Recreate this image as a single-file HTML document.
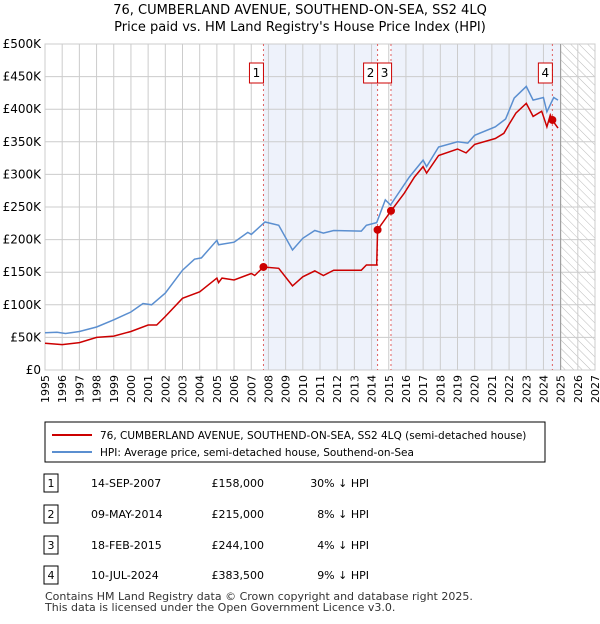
<!DOCTYPE html>
<html><head><meta charset="utf-8"><style>
body{margin:0;background:#fff;font-family:"DejaVu Sans","Liberation Sans",sans-serif;}
svg text{font-family:"DejaVu Sans","Liberation Sans",sans-serif;}
</style></head><body>
<svg width="600" height="620" xmlns="http://www.w3.org/2000/svg">
<text x="300" y="14" text-anchor="middle" font-size="13">76, CUMBERLAND AVENUE, SOUTHEND-ON-SEA, SS2 4LQ</text>
<text x="300" y="31" text-anchor="middle" font-size="13">Price paid vs. HM Land Registry's House Price Index (HPI)</text>
<defs><pattern id="hatch" width="6" height="6" patternUnits="userSpaceOnUse" patternTransform="rotate(-45)"><line x1="0" y1="0" x2="0" y2="6" stroke="#bbb" stroke-width="1"/></pattern></defs>
<g id="plot"></g>
<rect x="45" y="422" width="500" height="40" fill="#fff" stroke="#000"/>
<line x1="52" y1="435" x2="92" y2="435" stroke="#cc0000" stroke-width="2"/>
<text x="100" y="439" font-size="10.5">76, CUMBERLAND AVENUE, SOUTHEND-ON-SEA, SS2 4LQ (semi-detached house)</text>
<line x1="52" y1="452" x2="92" y2="452" stroke="#5b8fd0" stroke-width="2"/>
<text x="100" y="456" font-size="10.5">HPI: Average price, semi-detached house, Southend-on-Sea</text>
<g id="table" font-size="11"></g>
<text x="45" y="600" font-size="11" fill="#333">Contains HM Land Registry data © Crown copyright and database right 2025.</text>
<text x="45" y="611" font-size="11" fill="#333">This data is licensed under the Open Government Licence v3.0.</text>
</svg>
<script>
const yearTicks=[1995,1996,1997,1998,1999,2000,2001,2002,2003,2004,2005,2006,2007,2008,2009,2010,2011,2012,2013,2014,2015,2016,2017,2018,2019,2020,2021,2022,2023,2024,2025,2026,2027];
const valueTicks=[0,50,100,150,200,250,300,350,400,450,500];
const valueLabels=["£0","£50K","£100K","£150K","£200K","£250K","£300K","£350K","£400K","£450K","£500K"];
const hpiT=[1995,1995.7,1996.2,1997,1998,1999,2000,2000.7,2001.2,2002,2003,2003.7,2004.1,2005,2005.1,2006,2006.8,2007,2007.8,2008.6,2009.4,2010,2010.7,2011.2,2011.8,2013.4,2013.7,2014.3,2014.8,2015.1,2016.2,2017,2017.2,2017.9,2019,2019.6,2020,2021.2,2021.8,2022.3,2023,2023.4,2024,2024.2,2024.6,2024.85];
const hpiV=[57,58,56,59,66,77,89,102,100,118,153,170,172,199,192,196,211,208,227,222,184,202,214,210,214,213,222,226,261,253,296,322,312,342,350,348,360,373,385,417,435,414,418,396,418,414];
const ppT=[1995,1996,1997,1998,1999,2000,2001,2001.5,2002,2003,2004,2005,2005.1,2005.3,2006,2007,2007.2,2007.71,2008.6,2009.4,2010,2010.7,2011.2,2011.8,2013.4,2013.7,2014.3,2014.35,2015.13,2015.9,2016.5,2017,2017.2,2017.9,2019,2019.5,2020,2021.2,2021.7,2022,2022.4,2023,2023.4,2023.9,2024.2,2024.4,2024.52,2024.85];
const ppV=[41,39,42,50,52,59,69,69,82,110,120,141,134,141,138,148,145,158,156,129,143,152,145,153,153,161,161,215,244,271,296,312,302,329,339,333,346,355,363,377,394,409,389,397,373,391,383,371];
const saleLabels=["1","2","3","4"];
const saleT=[2007.71,2014.35,2015.13,2024.52];
const saleV=[158,215,244.1,383.5];
const saleDates=["14-SEP-2007","09-MAY-2014","18-FEB-2015","10-JUL-2024"];
const salePrices=["£158,000","£215,000","£244,100","£383,500"];
const saleDiffs=["30% ↓ HPI","8% ↓ HPI","4% ↓ HPI","9% ↓ HPI"];
const X0=45,X1=595,Y0=370,Y1=44;
const xs=t=>X0+(t-1995)/(2027-1995)*(X1-X0);
const ys=v=>Y0-v/500*(Y0-Y1);
const NS="http://www.w3.org/2000/svg";
const plot=document.getElementById('plot');
function mk(tag,attrs,parent){const e=document.createElementNS(NS,tag);for(const k in attrs)e.setAttribute(k,attrs[k]);(parent||plot).appendChild(e);return e;}
let r=mk('rect',{x:xs(saleT[0]),y:Y1,width:xs(saleT[1])-xs(saleT[0]),height:Y0-Y1,fill:'#eef2fb'});


r=mk('rect',{x:xs(saleT[2]),y:Y1,width:xs(2025)-xs(saleT[2]),height:Y0-Y1,fill:'#eef2fb'});


r=mk('rect',{x:xs(2025),y:Y1,width:X1-xs(2025),height:Y0-Y1,fill:'url(#hatch)'});


yearTicks.forEach(y=>{const l=mk('line',{x1:xs(y),x2:xs(y),y1:Y1,y2:Y0,stroke:'#ccc'});


const t=mk('text',{x:0,y:0,'font-size':11,'text-anchor':'end',transform:`translate(${xs(y)+4},${Y0+5}) rotate(-90)`});t.textContent=y;

});
valueTicks.forEach((v,i)=>{const l=mk('line',{x1:X0,x2:X1,y1:ys(v),y2:ys(v),stroke:'#ccc'});


const t=mk('text',{x:X0-4,y:ys(v)+4,'font-size':12,'text-anchor':'end'});t.textContent=valueLabels[i];

});
r=mk('rect',{x:X0,y:Y1,width:X1-X0,height:Y0-Y1,fill:'none',stroke:'#ccc'});


let l=mk('line',{x1:xs(2025),x2:xs(2025),y1:Y1,y2:Y0,stroke:'#999'});


saleT.forEach((t,i)=>{const d=mk('line',{x1:xs(t),x2:xs(t),y1:Y1,y2:Y0,stroke:'#e06060','stroke-dasharray':'2,3'});

});
function path(T,V,col,name){const p=mk('path',{d:T.map((t,i)=>(i?'L':'M')+xs(t).toFixed(1)+','+ys(V[i]).toFixed(1)).join(''),fill:'none',stroke:col,'stroke-width':1.5});

}
path(hpiT,hpiV,'#5b8fd0','hpi-line');
path(ppT,ppV,'#cc0000','price-paid-line');
saleT.forEach((t,i)=>{const c=mk('circle',{cx:xs(t),cy:ys(saleV[i]),r:4,fill:'#cc0000'});

});
saleLabels.forEach((s,i)=>{const bx=i==2?xs(saleT[1])+7:xs(saleT[i])-7;const g=mk('g',{});


mk('rect',{x:bx-7,y:63,width:14,height:20,fill:'#fff',stroke:'#cc0000'},g);const t=mk('text',{x:bx,y:77,'font-size':12,'text-anchor':'middle'},g);t.textContent=s;});
const tb=document.getElementById('table');
const rowY=[483,514,545,575];
saleLabels.forEach((s,i)=>{const g=mk('g',{},tb);


mk('rect',{x:44,y:rowY[i]-9,width:14,height:18,fill:'#fff',stroke:'#000'},g);
let t=mk('text',{x:51,y:rowY[i]+4,'text-anchor':'middle'},g);t.textContent=s;
t=mk('text',{x:91,y:rowY[i]+4},g);t.textContent=saleDates[i];
t=mk('text',{x:264,y:rowY[i]+4,'text-anchor':'end'},g);t.textContent=salePrices[i];
t=mk('text',{x:369,y:rowY[i]+4,'text-anchor':'end'},g);t.textContent=saleDiffs[i];});
</script>
</body></html>
